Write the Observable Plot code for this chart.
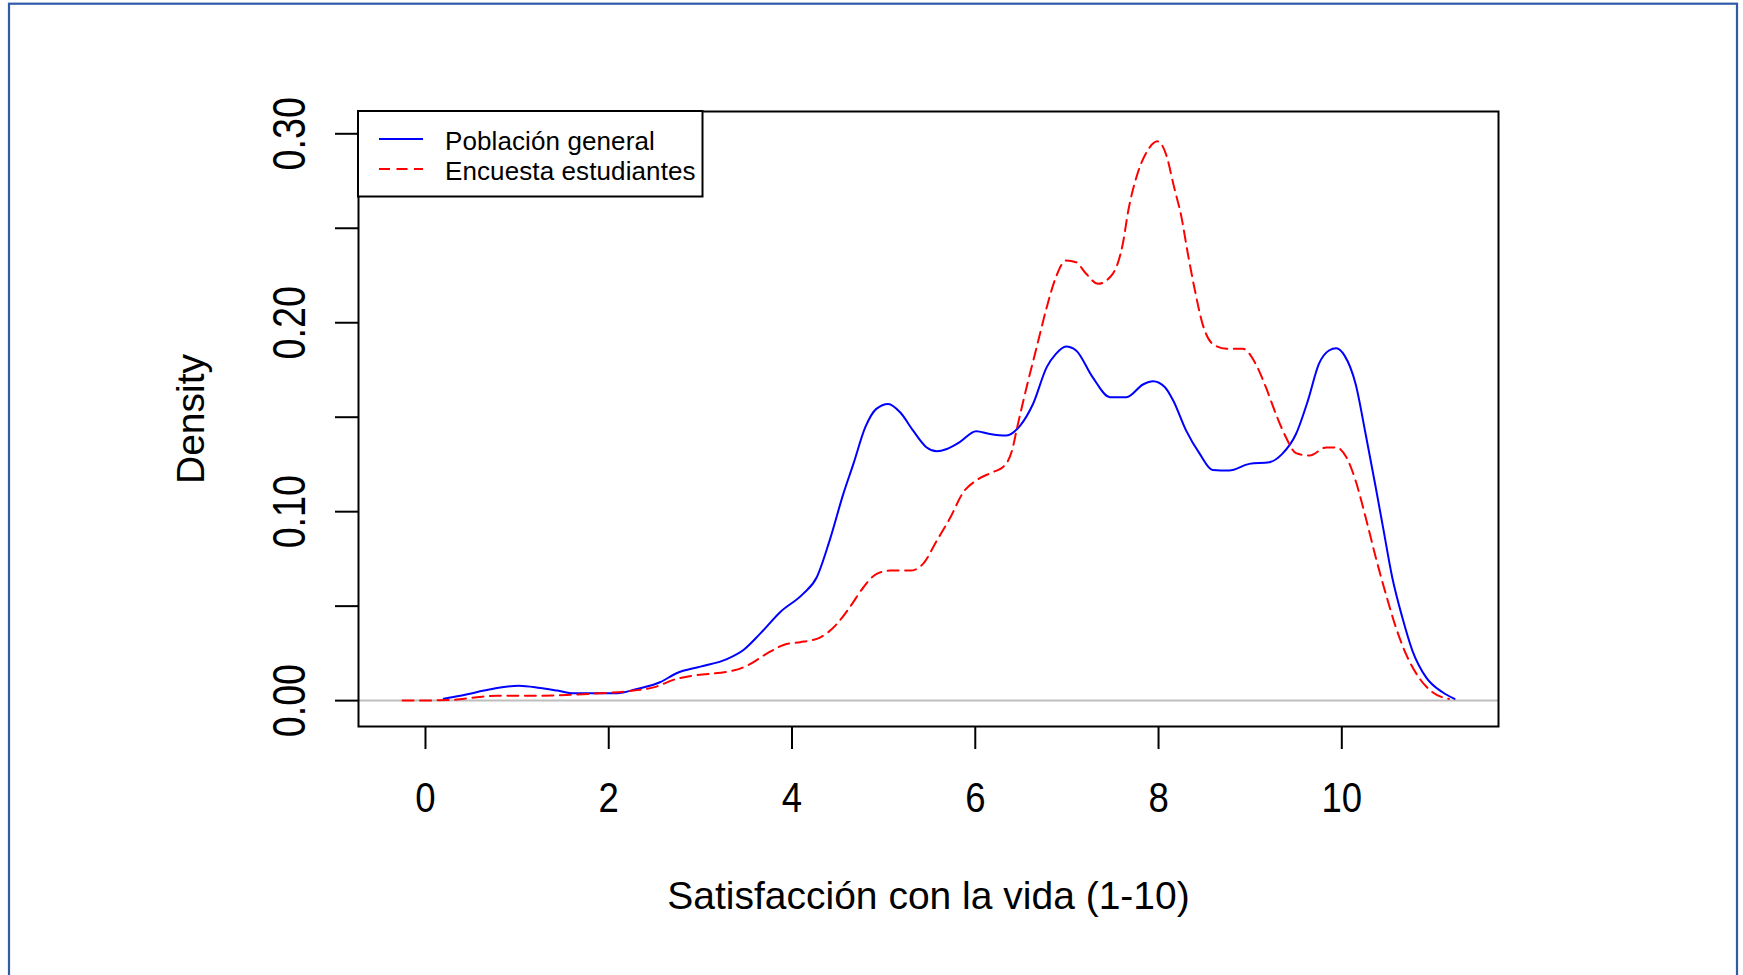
<!DOCTYPE html>
<html>
<head>
<meta charset="utf-8">
<script src="https://cdn.jsdelivr.net/npm/d3@7"></script>
<script src="https://cdn.jsdelivr.net/npm/@observablehq/plot@0.6"></script>
<style>
html, body { margin: 0; padding: 0; background: #fff; overflow: hidden; }
#chart svg { display: block; }
g[aria-label="x-axis label"], g[aria-label="y-axis label"] {
  font-size: 39px;
  font-family: 'Liberation Sans', Arial, sans-serif;
}
</style>
</head>
<body>
<div id="chart"></div>
<script>
// ---- data ----
const xTicks = [0, 2, 4, 6, 8, 10];
const yTicks = [0, 0.05, 0.10, 0.15, 0.20, 0.25, 0.30];
const yLabelTicks = [0, 0.10, 0.20, 0.30];
const seriesNames = ["Población general", "Encuesta estudiantes"];
const xLabel = "Satisfacción con la vida (1-10)";
const yLabel = "Density";

const generalX = [0.20, 0.38, 0.64, 0.78, 1.02, 1.25, 1.44, 1.62, 2.09, 2.31, 2.56, 2.74, 3.00, 3.29, 3.47, 3.65, 3.87, 4.12, 4.27, 4.41, 4.56, 4.67, 4.80, 4.92, 5.05, 5.18, 5.32, 5.47, 5.58, 5.69, 5.83, 6.01, 6.16, 6.34, 6.49, 6.63, 6.78, 6.88, 6.99, 7.10, 7.28, 7.47, 7.65, 7.83, 7.94, 8.07, 8.16, 8.30, 8.45, 8.59, 8.77, 8.99, 9.21, 9.35, 9.50, 9.63, 9.75, 9.86, 9.94, 10.03, 10.15, 10.26, 10.37, 10.45, 10.55, 10.66, 10.77, 10.92, 11.10, 11.23];
const generalY = [0.0010, 0.0026, 0.0053, 0.0067, 0.0079, 0.0067, 0.0053, 0.0039, 0.0039, 0.0062, 0.0097, 0.0145, 0.0180, 0.0220, 0.0268, 0.0353, 0.0468, 0.0565, 0.0653, 0.0847, 0.1094, 0.1253, 0.1447, 0.1544, 0.1570, 0.1526, 0.1430, 0.1340, 0.1320, 0.1332, 0.1368, 0.1426, 0.1411, 0.1403, 0.1456, 0.1570, 0.1765, 0.1835, 0.1874, 0.1853, 0.1712, 0.1606, 0.1606, 0.1673, 0.1690, 0.1659, 0.1588, 0.1430, 0.1306, 0.1221, 0.1218, 0.1253, 0.1262, 0.1306, 0.1411, 0.1588, 0.1782, 0.1853, 0.1865, 0.1826, 0.1677, 0.1411, 0.1129, 0.0917, 0.0653, 0.0441, 0.0265, 0.0123, 0.0044, 0.0009];

const studentX = [-0.25, 0.27, 0.56, 0.78, 1.18, 1.54, 1.91, 2.27, 2.49, 2.74, 2.92, 3.36, 3.51, 3.72, 3.94, 4.09, 4.31, 4.49, 4.63, 4.78, 4.92, 5.07, 5.29, 5.43, 5.58, 5.72, 5.87, 6.01, 6.19, 6.30, 6.41, 6.45, 6.56, 6.67, 6.78, 6.88, 6.99, 7.10, 7.21, 7.34, 7.50, 7.61, 7.67, 7.77, 7.87, 7.99, 8.08, 8.17, 8.25, 8.32, 8.39, 8.48, 8.59, 8.74, 8.92, 9.06, 9.17, 9.28, 9.39, 9.50, 9.65, 9.83, 9.94, 10.05, 10.15, 10.26, 10.37, 10.48, 10.59, 10.70, 10.84, 10.99, 11.17];
const studentY = [0.0000, 0.0003, 0.0018, 0.0026, 0.0026, 0.0030, 0.0039, 0.0053, 0.0070, 0.0115, 0.0132, 0.0159, 0.0185, 0.0247, 0.0300, 0.0309, 0.0335, 0.0406, 0.0494, 0.0600, 0.0670, 0.0688, 0.0688, 0.0724, 0.0847, 0.0962, 0.1103, 0.1165, 0.1209, 0.1235, 0.1340, 0.1430, 0.1659, 0.1870, 0.2082, 0.2241, 0.2329, 0.2320, 0.2259, 0.2206, 0.2259, 0.2418, 0.2594, 0.2788, 0.2903, 0.2960, 0.2894, 0.2717, 0.2559, 0.2365, 0.2188, 0.1994, 0.1888, 0.1862, 0.1862, 0.1782, 0.1660, 0.1518, 0.1394, 0.1310, 0.1297, 0.1340, 0.1340, 0.1288, 0.1165, 0.0970, 0.0759, 0.0565, 0.0388, 0.0247, 0.0123, 0.0044, 0.0009];

// ---- build tables ----
const general = generalX.map((x, i) => ({x, y: generalY[i]}));
const student = studentX.map((x, i) => ({x, y: studentY[i]}));

const baseFont = "'Liberation Sans', Arial, sans-serif";
const blue = "#0000ff", red = "#ff0000", dash = "11,6.5";

const svg = Plot.plot({
  width: 1743,
  height: 975,
  marginLeft: 358,
  marginRight: 245,
  marginTop: 111,
  marginBottom: 249,
  style: {fontFamily: baseFont, background: "#fff", color: "#000", overflow: "visible"},
  x: {domain: [-0.731, 11.71]},
  y: {domain: [-0.0137, 0.3118]},
  marks: [
    Plot.ruleY([0], {stroke: "#bebebe", strokeWidth: 2}),
    Plot.line(general, {x: "x", y: "y", stroke: blue, strokeWidth: 2, curve: "monotone-x"}),
    Plot.line(student, {x: "x", y: "y", stroke: red, strokeWidth: 2, strokeDasharray: dash, curve: "monotone-x"}),
    Plot.frame({stroke: "#000", strokeWidth: 2}),
    Plot.axisX({ticks: xTicks, tickSize: 23, tickPadding: 33, strokeWidth: 2, fontSize: 42,
      label: xLabel, labelAnchor: "center", labelOffset: 182, labelArrow: "none"}),
    Plot.axisY({ticks: yTicks, tickSize: 23, strokeWidth: 2, tickFormat: () => "", label: null}),
    Plot.axisY({ticks: yLabelTicks, tickSize: 0, tickRotate: -90, tickPadding: 54, tickFormat: d3.format(".2f"),
      fontSize: 46,
      label: yLabel, labelAnchor: "center", labelOffset: 182, labelArrow: "none"})
  ]
});

const root = d3.select(svg);

// condensed look of the tick labels (R/Windows rendering)
root.selectAll('g[aria-label="x-axis tick label"] text').each(function () {
  const t = d3.select(this);
  t.attr("transform", (t.attr("transform") || "") + " scale(0.87,1)");
});
root.selectAll('g[aria-label="y-axis tick label"] text').each(function () {
  const t = d3.select(this);
  t.attr("transform", (t.attr("transform") || "") + " scale(0.82,1)");
});

// ---- legend (top-left, inside the frame) ----
const lg = root.append("g").attr("aria-label", "legend").attr("text-anchor", "start");
lg.append("rect").attr("x", 358).attr("y", 111).attr("width", 344.5).attr("height", 85.5)
  .attr("fill", "#fff").attr("stroke", "#000").attr("stroke-width", 2);
const rows = [
  {name: seriesNames[0], color: blue, dash: null, y: 139, base: 149.5},
  {name: seriesNames[1], color: red, dash: dash, y: 169, base: 180}
];
rows.forEach(r => {
  lg.append("line").attr("x1", 379).attr("x2", 423).attr("y1", r.y).attr("y2", r.y)
    .attr("stroke", r.color).attr("stroke-width", 2).attr("stroke-dasharray", r.dash);
  lg.append("text").attr("x", 445).attr("y", r.base).text(r.name)
    .attr("text-anchor", "start")
    .attr("font-size", 26).attr("letter-spacing", 0.1).attr("fill", "#000")
    .attr("font-family", baseFont);
});

// ---- outer page border ----
root.append("rect").attr("x", 9).attr("y", 3.7).attr("width", 1728).attr("height", 1200)
  .attr("fill", "none").attr("stroke", "#2e5ca8").attr("stroke-width", 2.2);

document.getElementById("chart").appendChild(svg);
</script>
</body>
</html>
